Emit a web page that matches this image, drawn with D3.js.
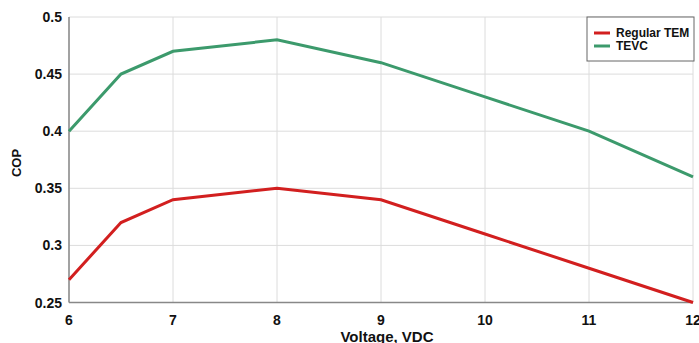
<!DOCTYPE html>
<html>
<head>
<meta charset="utf-8">
<script src="https://cdn.jsdelivr.net/npm/d3@7"></script>
<style>
body { margin: 0; background: #fff; }
text { font-family: "Liberation Sans", Arial, sans-serif; font-weight: bold; fill: #111; }
</style>
</head>
<body>
<script>
var voltage = [6, 6.5, 7, 8, 9, 10, 11, 12];
var regularTEM = [0.27, 0.32, 0.34, 0.35, 0.34, 0.31, 0.28, 0.25];
var tevc = [0.40, 0.45, 0.47, 0.48, 0.46, 0.43, 0.40, 0.36];
var xTicks = [6, 7, 8, 9, 10, 11, 12];
var yTicks = [0.25, 0.3, 0.35, 0.4, 0.45, 0.5];

var svg = d3.select("body").append("svg")
    .attr("width", 699)
    .attr("height", 343);

var x = d3.scaleLinear().domain([6, 12]).range([69, 693]);
var y = d3.scaleLinear().domain([0.25, 0.5]).range([302.5, 17]);

// grid
svg.selectAll(".gx").data(xTicks).enter().append("line")
    .attr("x1", d => x(d)).attr("x2", d => x(d))
    .attr("y1", y(0.5)).attr("y2", y(0.25))
    .attr("stroke", "#dcdcdc").attr("stroke-width", 1);
svg.selectAll(".gy").data(yTicks).enter().append("line")
    .attr("x1", x(6)).attr("x2", x(12))
    .attr("y1", d => y(d)).attr("y2", d => y(d))
    .attr("stroke", "#dcdcdc").attr("stroke-width", 1);

// axes lines
svg.append("line").attr("x1", x(6)).attr("x2", x(6)).attr("y1", y(0.5)).attr("y2", y(0.25))
    .attr("stroke", "#888").attr("stroke-width", 1.5);
svg.append("line").attr("x1", x(6)).attr("x2", x(12)).attr("y1", y(0.25)).attr("y2", y(0.25))
    .attr("stroke", "#888").attr("stroke-width", 1.5);

// tick labels
svg.selectAll(".xl").data(xTicks).enter().append("text")
    .attr("x", d => x(d)).attr("y", 325)
    .attr("text-anchor", "middle").style("font-size", "14px")
    .text(d => d);
svg.selectAll(".yl").data(yTicks).enter().append("text")
    .attr("x", 62).attr("y", d => y(d) + 5)
    .attr("text-anchor", "end").style("font-size", "14px")
    .text(d => d);

// axis titles
svg.append("text").attr("x", 387).attr("y", 342)
    .attr("text-anchor", "middle").style("font-size", "15px")
    .text("Voltage, VDC");
svg.append("text").attr("transform", "translate(21,163) rotate(-90)")
    .attr("text-anchor", "middle").style("font-size", "13px")
    .text("COP");

// lines
var line = d3.line().x(d => x(d[0])).y(d => y(d[1]));
svg.append("path").datum(voltage.map((v, i) => [v, regularTEM[i]]))
    .attr("d", line).attr("fill", "none")
    .attr("stroke", "#d21f1f").attr("stroke-width", 3);
svg.append("path").datum(voltage.map((v, i) => [v, tevc[i]]))
    .attr("d", line).attr("fill", "none")
    .attr("stroke", "#3c9a6c").attr("stroke-width", 3);

// legend
var lg = svg.append("g");
lg.append("rect").attr("x", 587).attr("y", 17).attr("width", 107).attr("height", 44)
    .attr("fill", "#fff").attr("stroke", "#666").attr("stroke-width", 1);
var legendItems = [["Regular TEM", "#d21f1f"], ["TEVC", "#3c9a6c"]];
lg.selectAll(".li").data(legendItems).enter().append("line")
    .attr("x1", 594).attr("x2", 610)
    .attr("y1", (d, i) => 33 + i * 13).attr("y2", (d, i) => 33 + i * 13)
    .attr("stroke", d => d[1]).attr("stroke-width", 3);
lg.selectAll(".lt").data(legendItems).enter().append("text")
    .attr("x", 616).attr("y", (d, i) => 37 + i * 13)
    .style("font-size", "12px")
    .text(d => d[0]);
</script>
</body>
</html>
